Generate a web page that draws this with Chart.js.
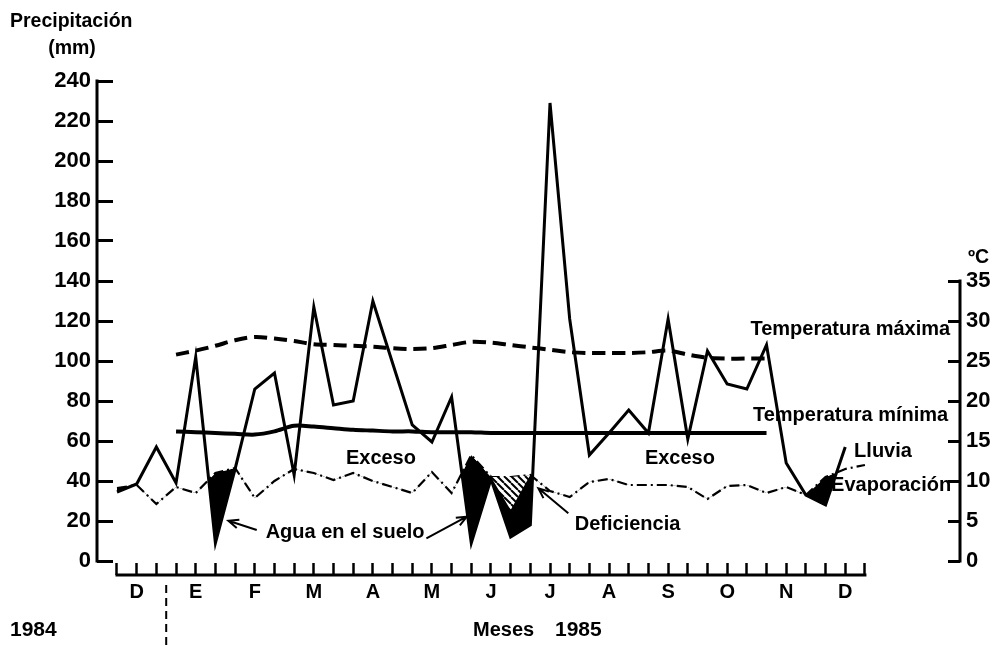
<!DOCTYPE html>
<html>
<head>
<meta charset="utf-8">
<title>Balance hídrico 1984-1985</title>
<script src="https://cdn.jsdelivr.net/npm/chart.js@4.4.0/dist/chart.umd.min.js"></script>
<style>
  body { margin: 0; background: #fff; }
  #wrap { width: 995px; height: 646px; }
</style>
</head>
<body>
<div id="wrap"><canvas id="balance" width="995" height="646"></canvas></div>
<script>
// periodos de 10 dias (decadas), dic 1984 a dic 1985
const decadas = Array.from({length: 39}, (_, i) => i);
const meses = ['D', 'E', 'F', 'M', 'A', 'M', 'J', 'J', 'A', 'S', 'O', 'N', 'D'];
const ticksPrecip = [0, 20, 40, 60, 80, 100, 120, 140, 160, 180, 200, 220, 240];
const ticksTemp = [0, 5, 10, 15, 20, 25, 30, 35];

// mm
const lluvia = [34.5, 38.5, 57, 39, 102, 9, 46, 86, 94, 43, 127, 78, 80, 130, 99, 68, 59.5, 82, 9, 41,
  12, 18, 229, 121, 53, 64, 75.5, 64, 121, 61, 105, 88.5, 86, 108, 49, 33, 28, 57, null];
const evaporacion = [36.5, 38, 28.5, 37, 34, 44, 46.5, 31.5, 40, 46, 44, 40.5, 44, 40, 37, 34, 44.5, 34, 53, 42,
  42, 43, 35, 32, 39.5, 41, 38, 38, 38, 37, 31, 37.5, 38, 34, 37, 33, 42, 46, 48];
// limite inferior de la deficiencia (rayado)
const evapReal = [null, null, null, null, null, null, null, null, null, null, null, null, null, null, null, null, null, null, null, 42,
  25.5, 43, null, null, null, null, null, null, null, null, null, null, null, null, null, null, null, null, null];

// grados C
const tempMax = [null, null, null, 25.8, 26.3, 26.9, 27.6, 28, 27.8, 27.5, 27.1, 27, 26.9, 26.8, 26.6, 26.5, 26.6, 27, 27.4, 27.3,
  27, 26.7, 26.4, 26.1, 26, 26, 26, 26.1, 26.3, 25.8, 25.4, 25.3, 25.3, 25.3, null, null, null, null, null];
const tempMin = [null, null, null, 16.2, 16.1, 16, 15.9, 15.8, 16.2, 16.9, 16.8, 16.6, 16.4, 16.3, 16.2, 16.2, 16.1, 16.1, 16.1, 16,
  16, 16, 16, 16, 16, 16, 16, 16, 16, 16, 16, 16, 16, 16, null, null, null, null, null];

const notas = [
  ['Exceso', 13.41, 51.5, 'center'],
  ['Exceso', 28.6, 51.5, 'center'],
  ['Agua en el suelo', 11.59, 14.5, 'center'],
  ['Deficiencia', 25.94, 18.5, 'center'],
  ['Temperatura máxima', 42.33, 116, 'right'],
  ['Temperatura mínima', 42.23, 73, 'right'],
  ['Lluvia', 37.45, 55, 'left'],
  ['Evaporación', 42.38, 38, 'right']
];
const flechas = [
  [7.1, 15.5, 5.66, 20.1],
  [15.72, 11.35, 17.77, 22.15],
  [22.93, 23.85, 21.41, 36.35]
];

const FUENTE = '"Liberation Sans", Arial, sans-serif';
Chart.defaults.font.family = FUENTE;
Chart.defaults.font.weight = 'bold';
Chart.defaults.color = '#000';

function rayado() {
  const c = document.createElement('canvas');
  c.width = 7; c.height = 7;
  const g = c.getContext('2d');
  g.fillStyle = '#fff';
  g.fillRect(0, 0, 7, 7);
  g.strokeStyle = '#000';
  g.lineWidth = 2;
  g.beginPath();
  for (const k of [-7, 0, 7]) { g.moveTo(k, 0); g.lineTo(k + 7, 7); }
  g.stroke();
  return g.createPattern(c, 'repeat');
}

function flecha(ctx, x1, y1, x2, y2) {
  const a = Math.atan2(y2 - y1, x2 - x1);
  ctx.beginPath();
  ctx.moveTo(x1, y1);
  ctx.lineTo(x2, y2);
  ctx.moveTo(x2 - 11 * Math.cos(a - 0.4), y2 - 11 * Math.sin(a - 0.4));
  ctx.lineTo(x2, y2);
  ctx.lineTo(x2 - 11 * Math.cos(a + 0.4), y2 - 11 * Math.sin(a + 0.4));
  ctx.stroke();
}

const extras = {
  id: 'extras',
  afterDraw(chart) {
    const {ctx, chartArea: area, scales: {x, y, y1}} = chart;
    ctx.save();
    ctx.strokeStyle = '#000';
    ctx.fillStyle = '#000';
    // ejes
    ctx.lineWidth = 3;
    ctx.lineCap = 'square';
    ctx.beginPath();
    ctx.moveTo(area.left, y.getPixelForValue(ticksPrecip[0]));
    ctx.lineTo(area.left, y.getPixelForValue(ticksPrecip[ticksPrecip.length - 1]));
    ctx.moveTo(area.right, y1.getPixelForValue(ticksTemp[0]));
    ctx.lineTo(area.right, y1.getPixelForValue(ticksTemp[ticksTemp.length - 1]));
    ctx.moveTo(x.getPixelForValue(decadas[0]), area.bottom);
    ctx.lineTo(x.getPixelForValue(decadas[decadas.length - 1]), area.bottom);
    ctx.stroke();

    // separacion 1984 / 1985
    ctx.lineWidth = 2;
    ctx.lineCap = 'butt';
    ctx.setLineDash([8, 5]);
    const xs = x.getPixelForValue(2.5);
    ctx.beginPath();
    ctx.moveTo(xs, area.bottom + 10);
    ctx.lineTo(xs, chart.height);
    ctx.stroke();
    ctx.setLineDash([]);

    // rotulos
    ctx.font = 'bold 20px ' + FUENTE;
    ctx.textBaseline = 'middle';
    notas.forEach(([t, vx, vy, al]) => {
      ctx.textAlign = al;
      ctx.fillText(t, x.getPixelForValue(vx), y.getPixelForValue(vy));
    });
    ctx.lineWidth = 2;
    flechas.forEach(([a, b, c, d]) => {
      flecha(ctx, x.getPixelForValue(a), y.getPixelForValue(b), x.getPixelForValue(c), y.getPixelForValue(d));
    });

    ctx.font = 'bold 19.5px ' + FUENTE;
    ctx.textAlign = 'left';
    ctx.fillText('Precipitación', 10, 22);
    ctx.textAlign = 'center';
    ctx.fillText('(mm)', 72, 49);
    ctx.textAlign = 'left';
    ctx.fillText('ºC', 968, 258);
    ctx.font = 'bold 21px ' + FUENTE;
    ctx.fillText('1984', 10, 630);
    ctx.fillText('1985', 555, 630);
    ctx.font = 'bold 20px ' + FUENTE;
    ctx.fillText('Meses', 473, 630);
    ctx.restore();
  }
};

const ctx = document.getElementById('balance').getContext('2d');
const chart = new Chart(ctx, {
  type: 'line',
  data: {
    labels: decadas,
    datasets: [{
      label: 'Deficiencia',
      data: evapReal,
      borderColor: 'rgba(0,0,0,0)',
      borderWidth: 0,
      fill: {target: 2, above: rayado(), below: rayado()},
      pointRadius: 0,
      yAxisID: 'y'
    }, {
      label: 'Lluvia',
      data: lluvia,
      borderColor: '#000',
      borderWidth: 3,
      fill: {target: 2, above: 'rgba(0,0,0,0)', below: '#000'},
      pointRadius: 0,
      yAxisID: 'y'
    }, {
      label: 'Evaporación',
      data: evaporacion,
      borderColor: '#000',
      borderWidth: 2.2,
      borderDash: [10, 4, 2, 4],
      fill: false,
      pointRadius: 0,
      yAxisID: 'y'
    }, {
      label: 'Temperatura máxima',
      data: tempMax,
      borderColor: '#000',
      borderWidth: 4,
      borderDash: [13, 7],
      fill: false,
      pointRadius: 0,
      tension: 0.3,
      yAxisID: 'y1'
    }, {
      label: 'Temperatura mínima',
      data: tempMin,
      borderColor: '#000',
      borderWidth: 4,
      fill: false,
      pointRadius: 0,
      tension: 0.3,
      yAxisID: 'y1'
    }]
  },
  options: {
    responsive: false,
    animation: false,
    layout: {padding: {top: 81, left: 0, right: 0, bottom: 0}},
    plugins: {legend: {display: false}, tooltip: {enabled: false}},
    scales: {
      x: {
        type: 'linear',
        position: 'bottom',
        bounds: 'data',
        min: -1.016,
        max: 42.83,
        afterBuildTicks: s => { s.ticks = decadas.map(v => ({value: v})); },
        afterFit: s => { s.height = 71; },
        border: {display: false},
        grid: {drawOnChartArea: false, tickLength: -12, tickWidth: 2.5, tickColor: '#000'},
        ticks: {
          autoSkip: false, maxRotation: 0, minRotation: 0, padding: 17,
          font: {size: 20, weight: 'bold'},
          callback: v => (v % 3 === 1 ? meses[(v - 1) / 3] : '')
        }
      },
      y: {
        position: 'left',
        bounds: 'data',
        min: -7,
        max: 240,
        afterBuildTicks: s => { s.ticks = ticksPrecip.map(v => ({value: v})); },
        afterFit: s => { s.width = 97; },
        border: {display: false},
        grid: {drawOnChartArea: false, tickLength: -16, tickWidth: 3, tickColor: '#000'},
        ticks: {padding: 22, font: {size: 22, weight: 'bold'}}
      },
      y1: {
        position: 'right',
        bounds: 'data',
        min: -1.75,
        max: 60,
        afterBuildTicks: s => { s.ticks = ticksTemp.map(v => ({value: v})); },
        afterFit: s => { s.width = 35; },
        border: {display: false},
        grid: {drawOnChartArea: false, tickLength: -12, tickWidth: 3, tickColor: '#000'},
        ticks: {padding: 18, font: {size: 22, weight: 'bold'}}
      }
    }
  },
  plugins: [extras]
});
</script>
</body>
</html>
